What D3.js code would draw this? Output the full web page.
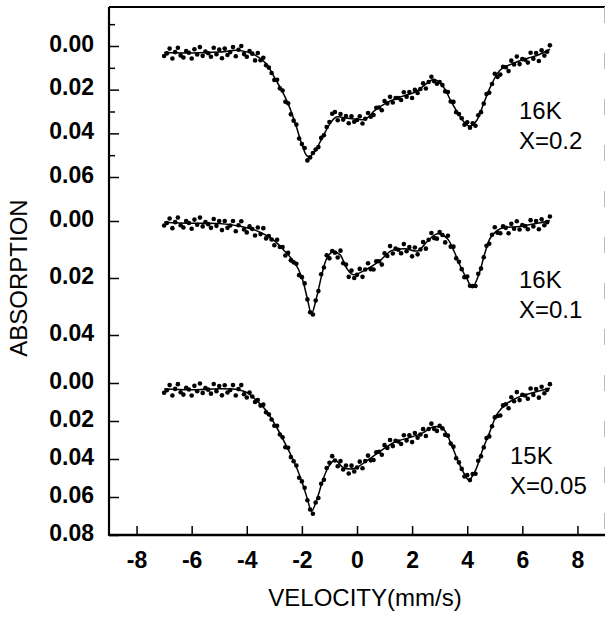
<!DOCTYPE html>
<html>
<head>
<meta charset="utf-8">
<script src="https://cdn.jsdelivr.net/npm/d3@7"></script>
<style>
  body { margin: 0; background: #fff; }
  text { font-family: "Liberation Sans", Arial, sans-serif; fill: #000; }
</style>
</head>
<body>
<svg id="chart" width="606" height="617"></svg>
<script>
// velocity tick labels (mm/s)
const velocityTicks = [-8, -6, -4, -2, 0, 2, 4, 6, 8];

// panel captions, top to bottom
const panelTemps = ["16K", "16K", "15K"];
const panelConc = ["X=0.2", "X=0.1", "X=0.05"];

// measured channels run from -7 to +7 mm/s in 0.1 steps
const channelVelocity = d3.range(141).map(i => -7 + i * 0.1);

// measured absorption, X=0.2 (16K)
const absX02 = [
  0.0046,0.0034,0.0012,0.0057,0.0028,0.0008,0.0043,0.0053,0.0023,0.0031,
  0.0057,0.0015,0.0039,0.0005,0.0045,0.0025,0.0033,0.0049,0.0008,0.0038,
  0.0016,0.0056,0.0012,0.0041,0.0028,0.0005,0.0047,0.0017,0.0000,0.0037,
  0.0049,0.0023,0.0035,0.0066,0.0032,0.0065,0.0054,0.0088,0.0099,0.0124,
  0.0156,0.0155,0.0194,0.0204,0.0255,0.0262,0.0313,0.0342,0.0360,0.0424,
  0.0449,0.0467,0.0524,0.0511,0.0490,0.0474,0.0463,0.0421,0.0409,0.0371,
  0.0348,0.0310,0.0302,0.0340,0.0312,0.0337,0.0321,0.0354,0.0322,0.0347,
  0.0339,0.0322,0.0355,0.0333,0.0307,0.0324,0.0316,0.0283,0.0282,0.0294,
  0.0252,0.0263,0.0233,0.0259,0.0238,0.0238,0.0247,0.0212,0.0232,0.0211,
  0.0238,0.0201,0.0215,0.0197,0.0171,0.0195,0.0165,0.0141,0.0161,0.0173,
  0.0165,0.0179,0.0208,0.0211,0.0254,0.0256,0.0303,0.0312,0.0331,0.0361,
  0.0349,0.0374,0.0354,0.0365,0.0317,0.0303,0.0264,0.0220,0.0214,0.0174,
  0.0127,0.0142,0.0131,0.0095,0.0097,0.0115,0.0067,0.0085,0.0048,0.0083,
  0.0060,0.0063,0.0076,0.0031,0.0058,0.0032,0.0069,0.0020,0.0044,0.0026,
  -0.0003
];

// measured absorption, X=0.1 (16K)
const absX01 = [
  0.0016,0.0007,-0.0009,0.0025,0.0004,-0.0012,0.0015,0.0023,0.0000,0.0007,
  0.0027,-0.0005,0.0013,-0.0012,0.0019,0.0004,0.0011,0.0024,-0.0007,0.0017,
  0.0000,0.0032,0.0000,0.0024,0.0016,0.0000,0.0036,0.0015,0.0001,0.0030,
  0.0040,0.0019,0.0028,0.0051,0.0023,0.0046,0.0025,0.0061,0.0053,0.0065,
  0.0085,0.0066,0.0091,0.0091,0.0121,0.0112,0.0138,0.0145,0.0150,0.0190,
  0.0197,0.0219,0.0275,0.0320,0.0328,0.0279,0.0246,0.0187,0.0163,0.0120,
  0.0131,0.0105,0.0111,0.0128,0.0104,0.0148,0.0153,0.0196,0.0174,0.0200,
  0.0189,0.0168,0.0196,0.0170,0.0148,0.0169,0.0170,0.0141,0.0141,0.0153,
  0.0113,0.0123,0.0088,0.0114,0.0097,0.0101,0.0113,0.0081,0.0106,0.0091,
  0.0124,0.0093,0.0117,0.0100,0.0074,0.0097,0.0066,0.0042,0.0060,0.0062,
  0.0039,0.0049,0.0075,0.0052,0.0090,0.0090,0.0131,0.0143,0.0169,0.0197,
  0.0195,0.0227,0.0228,0.0228,0.0185,0.0167,0.0127,0.0087,0.0080,0.0048,
  0.0022,0.0041,0.0043,0.0019,0.0024,0.0043,0.0010,0.0027,0.0001,0.0030,
  0.0014,0.0018,0.0029,-0.0003,0.0019,0.0000,0.0029,-0.0006,0.0015,0.0004,
  -0.0016
];

// measured absorption, X=0.05 (15K)
const absX005 = [
  0.0051,0.0038,0.0011,0.0066,0.0031,0.0006,0.0049,0.0061,0.0025,0.0034,
  0.0066,0.0015,0.0043,0.0003,0.0052,0.0027,0.0035,0.0056,0.0005,0.0043,
  0.0016,0.0065,0.0012,0.0050,0.0037,0.0011,0.0066,0.0032,0.0011,0.0059,
  0.0076,0.0050,0.0071,0.0100,0.0090,0.0119,0.0114,0.0154,0.0165,0.0192,
  0.0225,0.0225,0.0271,0.0286,0.0338,0.0341,0.0390,0.0412,0.0434,0.0499,
  0.0518,0.0551,0.0617,0.0666,0.0688,0.0629,0.0605,0.0530,0.0509,0.0447,
  0.0420,0.0385,0.0408,0.0438,0.0411,0.0455,0.0434,0.0476,0.0435,0.0466,
  0.0445,0.0414,0.0449,0.0411,0.0382,0.0407,0.0405,0.0365,0.0362,0.0378,
  0.0327,0.0342,0.0300,0.0332,0.0304,0.0308,0.0321,0.0275,0.0302,0.0275,
  0.0311,0.0263,0.0288,0.0271,0.0243,0.0279,0.0242,0.0214,0.0242,0.0252,
  0.0225,0.0239,0.0273,0.0277,0.0319,0.0335,0.0396,0.0418,0.0452,0.0492,
  0.0485,0.0511,0.0479,0.0478,0.0409,0.0386,0.0339,0.0290,0.0281,0.0228,
  0.0181,0.0174,0.0171,0.0118,0.0112,0.0133,0.0075,0.0096,0.0048,0.0090,
  0.0062,0.0066,0.0083,0.0029,0.0063,0.0032,0.0077,0.0020,0.0054,0.0036,
  0.0006
];

// fitted curves: [velocity, absorption]
const fitX02 = [[-7,0.0030],[-6,0.0032],[-5,0.0028],[-4.3,0.0020],[-3.7,0.0042],[-3.3,0.0080],
  [-2.95,0.0155],[-2.7,0.0210],[-2.45,0.0280],[-2.2,0.0370],[-2.0,0.0450],[-1.8,0.0505],
  [-1.6,0.0495],[-1.3,0.0430],[-1.0,0.0360],[-0.75,0.0325],[-0.4,0.0330],[0,0.0336],
  [0.3,0.0335],[0.65,0.0295],[1.1,0.0258],[1.6,0.0232],[2.1,0.0212],[2.5,0.0175],
  [2.8,0.0152],[3.15,0.0190],[3.4,0.0250],[3.65,0.0305],[3.9,0.0350],[4.1,0.0368],
  [4.35,0.0340],[4.6,0.0262],[4.85,0.0185],[5.2,0.0110],[5.7,0.0078],[6.2,0.0056],
  [6.6,0.0040],[7.0,0.0015]];

const fitX01 = [[-7,0.0004],[-6,0.0008],[-5,0.0009],[-4.2,0.0019],[-3.7,0.0032],[-3.3,0.0050],
  [-2.95,0.0073],[-2.6,0.0108],[-2.25,0.0148],[-2.0,0.0198],[-1.82,0.0265],[-1.65,0.0325],
  [-1.47,0.0270],[-1.28,0.0190],[-1.1,0.0132],[-0.88,0.0108],[-0.62,0.0118],[-0.38,0.0165],
  [-0.15,0.0188],[0.3,0.0172],[0.8,0.0142],[1.25,0.0104],[1.75,0.0097],[2.2,0.0105],
  [2.55,0.0072],[2.92,0.0045],[3.28,0.0062],[3.53,0.0108],[3.78,0.0165],[4.0,0.0205],
  [4.18,0.0234],[4.42,0.0188],[4.65,0.0110],[4.85,0.0058],[5.2,0.0027],[5.9,0.0019],
  [6.5,0.0009],[7,-0.0002]];

const fitX005 = [[-7,0.0032],[-6,0.0036],[-5,0.0030],[-4.3,0.0035],[-4.0,0.0050],[-3.7,0.0085],
  [-3.3,0.0145],[-2.95,0.0225],[-2.6,0.0320],[-2.25,0.0425],[-2.0,0.0520],[-1.8,0.0610],
  [-1.65,0.0675],[-1.45,0.0610],[-1.27,0.0525],[-1.05,0.0445],[-0.8,0.0405],[-0.5,0.0445],
  [-0.1,0.0450],[0.4,0.0405],[0.9,0.0353],[1.4,0.0309],[1.85,0.0290],[2.35,0.0265],
  [2.8,0.0230],[3.15,0.0245],[3.4,0.0315],[3.65,0.0405],[3.88,0.0475],[4.06,0.0510],
  [4.3,0.0460],[4.55,0.0355],[4.8,0.0265],[5.1,0.0160],[5.45,0.0107],[5.9,0.0072],
  [6.5,0.0046],[7.0,0.0028]];

// y tick values per panel
const ticksX02 = [0, 0.02, 0.04, 0.06];
const minorX02 = [-0.01, 0.01, 0.03, 0.05];
const ticksX01 = [0, 0.02, 0.04];
const ticksX005 = [0, 0.02, 0.04, 0.06, 0.08];

const svg = d3.select("#chart");
const plotLeft = 109, plotRight = 605, plotTop = 7, plotBottom = 535;

const x = d3.scaleLinear().domain([-9, 9]).range([plotLeft, plotRight]);

// each spectrum gets its own stacked y scale
const panels = [
  { abs: absX02, fit: fitX02, ticks: ticksX02, minor: minorX02,
    y: d3.scaleLinear().domain([0, 0.06]).range([46, 177]), capY: 119, capX: 519 },
  { abs: absX01, fit: fitX01, ticks: ticksX01, minor: [],
    y: d3.scaleLinear().domain([0, 0.04]).range([221, 335]), capY: 288, capX: 519 },
  { abs: absX005, fit: fitX005, ticks: ticksX005, minor: [],
    y: d3.scaleLinear().domain([0, 0.08]).range([383, 535]), capY: 464, capX: 510 }
];

panels.forEach((p, i) => {
  // major y ticks with labels
  svg.append("g")
    .attr("transform", `translate(${plotLeft},0)`)
    .call(d3.axisLeft(p.y).tickValues(p.ticks).tickFormat(d3.format(".2f"))
      .tickSize(-10).tickPadding(15))
    .call(g => g.select(".domain").remove())
    .call(g => g.selectAll("line").attr("stroke", "#000").attr("stroke-width", 1.5))
    .call(g => g.selectAll("text").attr("font-size", 23).attr("font-weight", "bold")
      .attr("font-family", "Liberation Sans, Arial, sans-serif").attr("dy", "0.22em"));

  // minor y ticks
  if (p.minor.length) {
    svg.append("g")
      .attr("transform", `translate(${plotLeft},0)`)
      .call(d3.axisLeft(p.y).tickValues(p.minor).tickFormat("").tickSize(-6))
      .call(g => g.select(".domain").remove())
      .call(g => g.selectAll("line").attr("stroke", "#000").attr("stroke-width", 1.5));
  }

  // fitted curve
  const line = d3.line()
    .x(d => x(d[0]))
    .y(d => p.y(d[1]))
    .curve(d3.curveCatmullRom.alpha(0.5));
  svg.append("path")
    .datum(p.fit)
    .attr("d", line)
    .attr("fill", "none")
    .attr("stroke", "#000")
    .attr("stroke-width", 1.5);

  // measured points
  svg.append("g").selectAll("circle")
    .data(p.abs)
    .join("circle")
    .attr("cx", (d, j) => x(channelVelocity[j]))
    .attr("cy", d => p.y(d))
    .attr("r", 2.3)
    .attr("fill", "#000");

  // caption
  const cap = svg.append("text")
    .attr("x", p.capX)
    .attr("y", p.capY)
    .attr("font-size", 24);
  cap.append("tspan").attr("x", p.capX).text(panelTemps[i]);
  cap.append("tspan").attr("x", p.capX).attr("dy", 29.5).text(panelConc[i]);
});

// bottom velocity axis
svg.append("g")
  .attr("transform", `translate(0,${plotBottom})`)
  .call(d3.axisBottom(x).tickValues(velocityTicks).tickFormat(d => String(d))
    .tickSize(-9).tickPadding(17))
  .call(g => g.select(".domain").remove())
  .call(g => g.selectAll("line").attr("stroke", "#000").attr("stroke-width", 1.5))
  .call(g => g.selectAll("text").attr("font-size", 23).attr("font-weight", "bold")
    .attr("font-family", "Liberation Sans, Arial, sans-serif"));

// frame
svg.append("line").attr("x1", plotLeft).attr("x2", plotLeft).attr("y1", plotTop).attr("y2", plotBottom + 1)
  .attr("stroke", "#000").attr("stroke-width", 2.2);
svg.append("line").attr("x1", plotLeft).attr("x2", plotRight).attr("y1", plotBottom).attr("y2", plotBottom)
  .attr("stroke", "#000").attr("stroke-width", 2.4);
svg.append("line").attr("x1", plotLeft).attr("x2", plotRight).attr("y1", plotTop).attr("y2", plotTop)
  .attr("stroke", "#000").attr("stroke-width", 1.8);
svg.append("line").attr("x1", plotRight - 0.5).attr("x2", plotRight - 0.5).attr("y1", plotTop).attr("y2", plotBottom)
  .attr("stroke", "#bbb").attr("stroke-width", 1).attr("stroke-dasharray", "16,30");

// axis titles
svg.append("text")
  .attr("x", (plotLeft + plotRight) / 2 + 8)
  .attr("y", 606)
  .attr("text-anchor", "middle")
  .attr("font-size", 24)
  .text("VELOCITY(mm/s)");

svg.append("text")
  .attr("transform", "translate(27,278) rotate(-90)")
  .attr("text-anchor", "middle")
  .attr("font-size", 24)
  .text("ABSORPTION");
</script>
</body>
</html>
